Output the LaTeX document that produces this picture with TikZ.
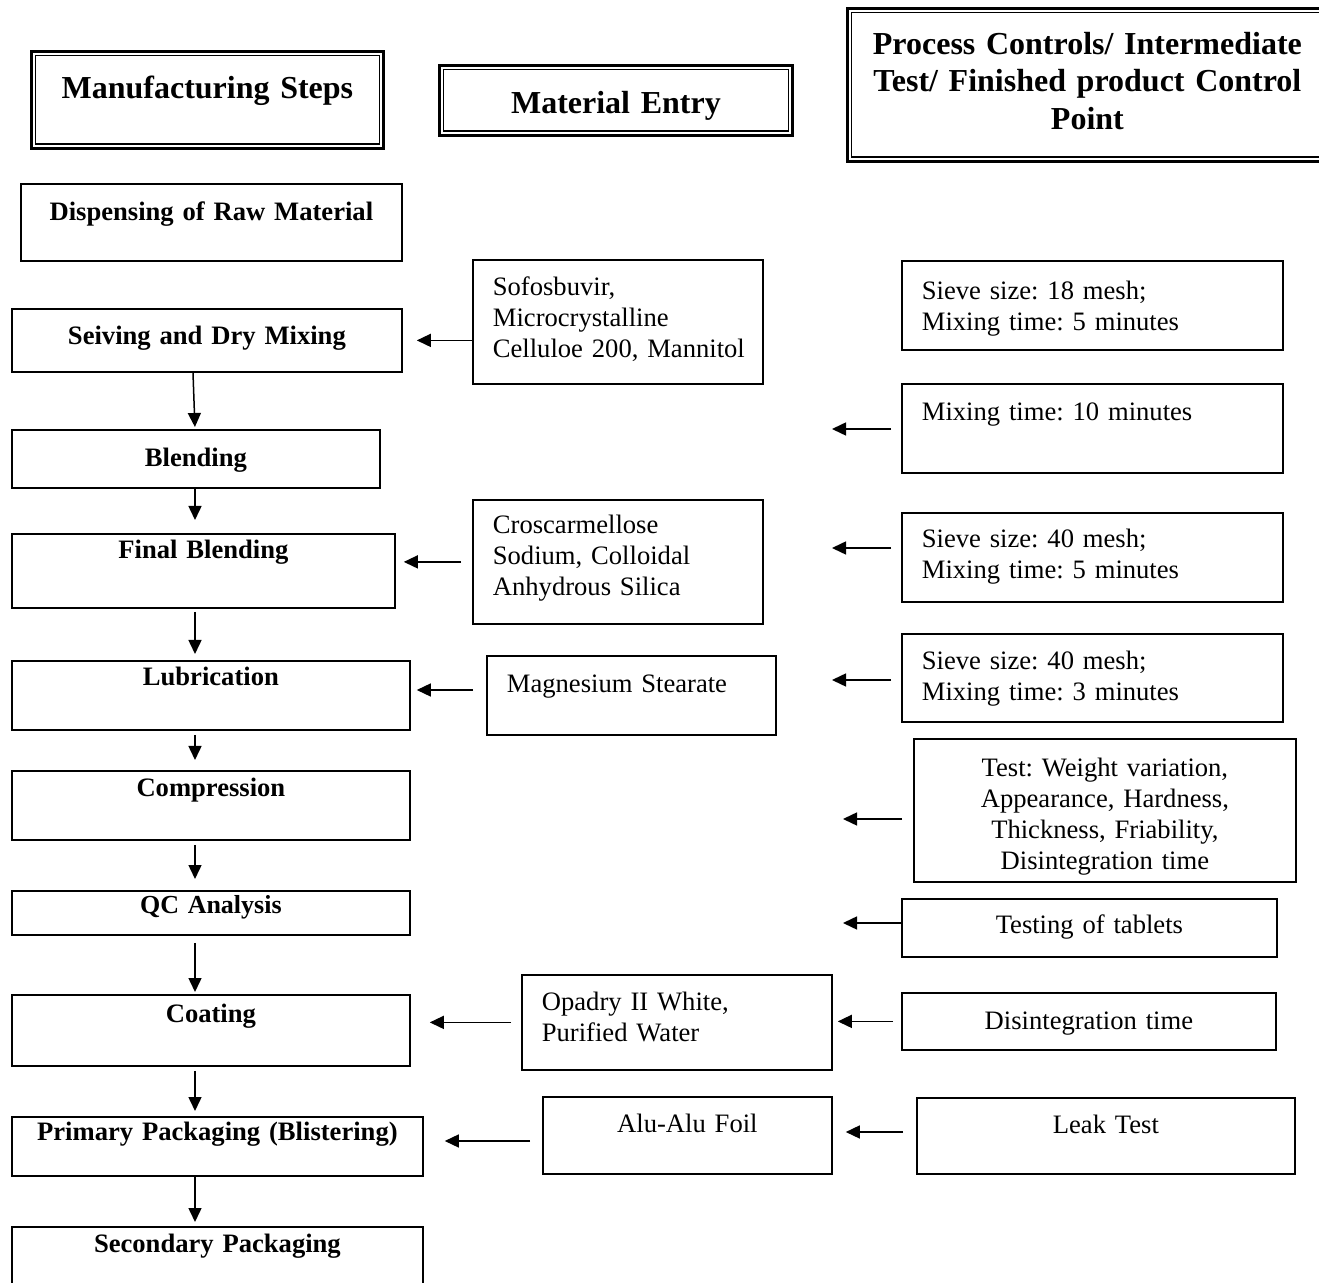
\documentclass[tikz,border=0pt]{standalone}
\usepackage{fontspec}
\setmainfont{Liberation Serif}
\usetikzlibrary{arrows.meta}

\newcommand{\bodyfont}{\fontsize{13.3}{15.5}\selectfont\frenchspacing}
\newcommand{\headfont}{\fontsize{16}{18.75}\selectfont\bfseries\frenchspacing}

\tikzset{
  frame/.style={draw, line width=0.9pt, inner xsep=10pt, inner ysep=0pt, anchor=north west},
  headbox/.style={frame, line width=1.4pt, align=center, font=\headfont},
  stepbox/.style={frame, align=center, font=\bodyfont\bfseries},
  matbox/.style={frame, align=left, font=\bodyfont},
  ctrlbox/.style={frame, align=left, font=\bodyfont},
  ctrlmid/.style={frame, align=center, font=\bodyfont},
  flow/.style={->, line width=0.75pt},
}

\begin{document}
\begin{tikzpicture}[x=0.5pt, y=-0.5pt, >={Triangle[length=7pt,width=6.5pt]}]
      \useasboundingbox (0,0) rectangle (1319,1283);
      \clip (0,0) rectangle (1319,1283);

      \node[headbox, text width=156pt, text height=23.5pt, text depth=25pt] (manuf) at (30,50) {Manufacturing Steps};
      \node[headbox, text width=156.5pt, text height=24pt, text depth=11pt] (mat) at (438,64) {Material Entry};
      \node[headbox, text width=220pt, text height=23pt, text depth=53.5pt] (ctrl) at (846,7) {Process Controls/ Intermediate\\ Test/ Finished product Control\\ Point};
      \foreach \h in {manuf, mat, ctrl}
        \draw [line width=0.8pt] ([shift={(5.5,5.5)}]\h.north west) rectangle ([shift={(-5.5,-5.5)}]\h.south east);

      \node[stepbox, text width=170.5pt, text height=18.5pt, text depth=20pt] (disp) at (20,183) {Dispensing of Raw Material};
      \node[stepbox, text width=175pt, text height=18pt, text depth=13.5pt] (seiv) at (11,308) {Seiving and Dry Mixing};
      \node[stepbox, text width=164pt, text height=18.5pt, text depth=10.5pt] (blend) at (11,429) {Blending};
      \node[stepbox, text width=171.5pt, text height=12.5pt, text depth=24.5pt] (final) at (11,533) {Final Blending};
      \node[stepbox, text width=179pt, text height=12.5pt, text depth=22pt] (lubr) at (11,660) {Lubrication};
      \node[stepbox, text width=179pt, text height=13pt, text depth=21.5pt] (compr) at (11,770) {Compression};
      \node[stepbox, font=\fontsize{13}{15}\selectfont\bfseries, text width=179pt, text height=11.5pt, text depth=10.5pt] (qc) at (11,890) {QC Analysis};
      \node[stepbox, text width=179pt, text height=14pt, text depth=21.5pt] (coat) at (11,994) {Coating};
      \node[stepbox, text width=185.5pt, text height=12pt, text depth=17.5pt] (prim) at (11,1116) {Primary Packaging (Blistering)};
      \node[stepbox, text width=185.5pt, text height=13pt, text depth=24pt] (secd) at (11,1226) {Secondary Packaging};

      \node[matbox, text width=125pt, text height=18pt, text depth=44pt] (sofo) at (472,259) {Sofosbuvir,\\ Microcrystalline\\ \mbox{Celluloe 200, Mannitol}};
      \node[matbox, text width=125pt, text height=17pt, text depth=45pt] (cros) at (472,499) {Croscarmellose\\ Sodium, Colloidal\\ Anhydrous Silica};
      \node[matbox, text width=124.5pt, text height=18.5pt, text depth=21pt] (magn) at (486,655) {Magnesium Stearate};
      \node[matbox, text width=135pt, text height=18pt, text depth=29.5pt] (opad) at (521,974) {Opadry II White,\\ Purified Water};
      \node[ctrlmid, text width=124.5pt, text height=18pt, text depth=20.5pt] (alu) at (542,1096) {Alu-Alu Foil};

      \node[ctrlbox, text width=170.5pt, text height=19.5pt, text depth=25pt] (sv18) at (901,260) {Sieve size: 18 mesh;\\ Mixing time: 5 minutes};
      \node[ctrlbox, text width=170.5pt, text height=18.5pt, text depth=26pt] (mx10) at (901,383) {Mixing time: 10 minutes};
      \node[ctrlbox, text width=170.5pt, text height=17.5pt, text depth=27pt] (sv40a) at (901,512) {Sieve size: 40 mesh;\\ Mixing time: 5 minutes};
      \node[ctrlbox, text width=170.5pt, text height=18pt, text depth=26pt] (sv40b) at (901,633) {Sieve size: 40 mesh;\\ Mixing time: 3 minutes};
      \node[ctrlmid, text width=171pt, text height=19pt, text depth=52.5pt] (test) at (913,738) {Test: Weight variation,\\ Appearance, Hardness,\\ Thickness, Friability,\\ Disintegration time};
      \node[ctrlmid, text width=167.5pt, text height=17.5pt, text depth=11.5pt] (tabl) at (901,898) {Testing of tablets};
      \node[ctrlmid, text width=167pt, text height=18.5pt, text depth=10pt] (disi) at (901,992) {Disintegration time};
      \node[ctrlmid, text width=169pt, text height=18pt, text depth=20pt] (leak) at (916,1097) {Leak Test};

      \coordinate (spine) at (195,0);
      \draw [flow, shorten >=1pt] ([xshift=-1pt]spine |- seiv.south) -- (spine |- blend.north);
      \draw [flow, shorten >=6.5pt] (spine |- blend.south) -- (spine |- final.north);
      \draw [flow, shorten <=1.5pt, shorten >=3pt] (spine |- final.south) -- (spine |- lubr.north);
      \draw [flow, shorten <=2pt, shorten >=5pt] (spine |- lubr.south) -- (spine |- compr.north);
      \draw [flow, shorten <=2pt, shorten >=5.5pt] (spine |- compr.south) -- (spine |- qc.north);
      \draw [flow, shorten <=3.5pt, shorten >=1pt] (spine |- qc.south) -- (spine |- coat.north);
      \draw [flow, shorten <=2pt, shorten >=2.5pt] (spine |- coat.south) -- (spine |- prim.north);
      \draw [flow, shorten >=2pt] (spine |- prim.south) -- (spine |- secd.north);

      \coordinate (cmag) at (0,690);
      \coordinate (calu) at (0,1141);
      \draw [flow, shorten >=7pt] (sofo.west |- seiv.east) -- (seiv.east);
      \draw [flow, shorten <=5.5pt, shorten >=4pt] (cros.west) -- (final.east |- cros.west);
      \draw [flow, shorten <=6.5pt, shorten >=3pt] (magn.west |- cmag) -- (lubr.east |- cmag);
      \draw [flow, shorten <=5pt, shorten >=9.5pt] (opad.west) -- (coat.east |- opad.west);
      \draw [flow, shorten <=6pt, shorten >=10.5pt] (alu.west |- calu) -- (prim.east |- calu);
      \draw [flow, shorten <=4pt, shorten >=2.5pt] (disi.west) -- (opad.east |- disi.west);
      \draw [flow, shorten <=6.5pt, shorten >=6.5pt] (leak.west |- 0,1132) -- (alu.east |- 0,1132);

      \coordinate (c10) at (832,429);
      \coordinate (c40a) at (832,548);
      \coordinate (c40b) at (832,680);
      \coordinate (ctest) at (843,819);
      \coordinate (ctabl) at (843,923);
      \draw [flow, shorten <=5pt] (mx10.west |- c10) -- (c10);
      \draw [flow, shorten <=5pt] (sv40a.west |- c40a) -- (c40a);
      \draw [flow, shorten <=5pt] (sv40b.west |- c40b) -- (c40b);
      \draw [flow, shorten <=5.5pt] (test.west |- ctest) -- (ctest);
      \draw [flow] (tabl.west |- ctabl) -- (ctabl);
    \end{tikzpicture}
\end{document}
